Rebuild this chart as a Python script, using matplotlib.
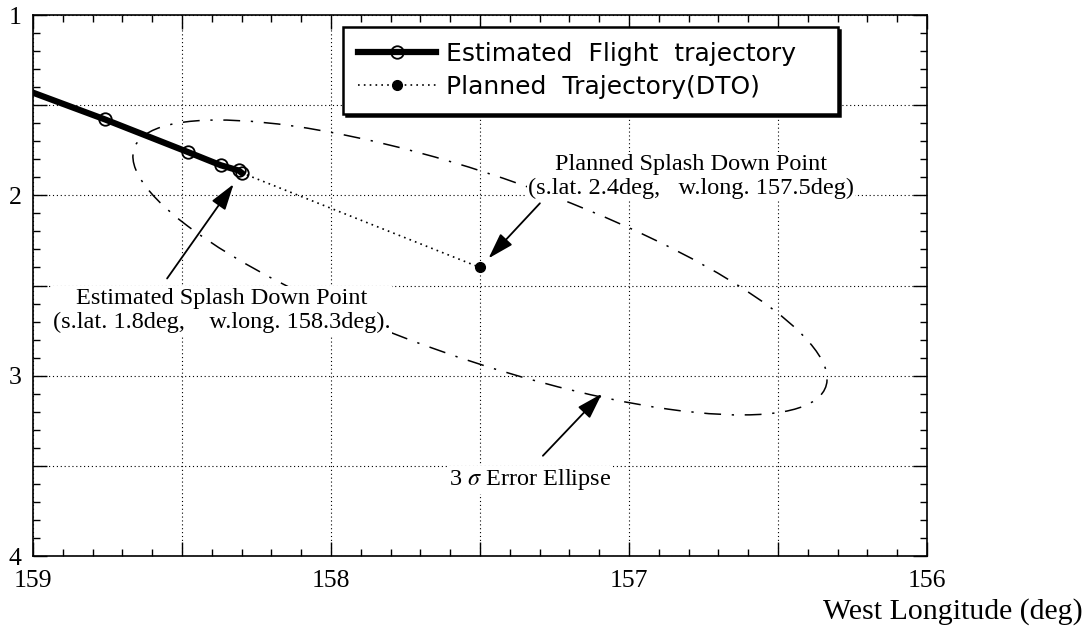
import numpy as np
import matplotlib.pyplot as plt
from matplotlib.patches import Ellipse
from matplotlib.ticker import MultipleLocator, FuncFormatter

plt.rcParams['font.family'] = 'Liberation Serif'
plt.rcParams['mathtext.fontset'] = 'stix'

# estimated flight trajectory (west longitude deg, south latitude deg)
est_lon = [159.05, 158.76, 158.48, 158.37, 158.31, 158.30]
est_lat = [1.40, 1.578, 1.76, 1.833, 1.862, 1.875]

# planned trajectory (DTO), ends at the planned splash down point
plan_lon = [159.05, 158.76, 158.48, 158.30, 157.5]
plan_lat = [1.40, 1.578, 1.76, 1.875, 2.4]

# 3 sigma error ellipse around the planned splash down point
ell_width = 2.69
ell_height = 0.93
ell_angle = -32.2


def trunc1(v):
    # one decimal, truncated like the flight report
    return '%.1f' % (np.floor(v * 10 + 1e-9) / 10)


est_pt = (est_lon[-1], est_lat[-1])
plan_pt = (plan_lon[-1], plan_lat[-1])

fig = plt.figure(figsize=(10.85, 6.28), dpi=100)
ax = fig.add_axes([0.0304, 0.1146, 0.824, 0.8615])

ax.set_xlim(159, 156)
ax.set_ylim(4, 1)

ax.xaxis.set_major_locator(MultipleLocator(0.5))
ax.xaxis.set_minor_locator(MultipleLocator(0.1))
ax.yaxis.set_major_locator(MultipleLocator(0.5))
ax.yaxis.set_minor_locator(MultipleLocator(0.1))
intlabel = FuncFormatter(lambda v, p: '%d' % round(v) if abs(v - round(v)) < 1e-6 else '')
ax.xaxis.set_major_formatter(intlabel)
ax.yaxis.set_major_formatter(intlabel)
ax.tick_params(which='both', direction='in', top=True, right=True, width=1)
ax.tick_params(which='major', length=10, labelsize=18.5)
ax.tick_params(which='minor', length=5)
ax.tick_params(axis='x', pad=10)
ax.tick_params(axis='y', pad=8)
for s in ax.spines.values():
    s.set_linewidth(1.2)

ax.grid(True, which='major', color='k', linestyle=(0, (1, 2.5)), linewidth=0.8)
ax.set_axisbelow(True)

ell = Ellipse(plan_pt, ell_width, ell_height, angle=ell_angle, fill=False,
              edgecolor='k', linewidth=1.1, linestyle=(0, (11, 7, 1.5, 7)), zorder=2)
ax.add_patch(ell)

ax.plot(plan_lon, plan_lat, color='k', linestyle=(0, (1, 2.5)), linewidth=1.2,
        marker='o', markersize=7, markevery=[len(plan_lon) - 1],
        label='Planned  Trajectory(DTO)', zorder=3)
ax.plot(est_lon, est_lat, color='k', linewidth=4.5, marker='o', markersize=9,
        markerfacecolor='none', markeredgewidth=1.3,
        label='Estimated  Flight  trajectory', zorder=4)

box = dict(facecolor='white', edgecolor='none', pad=1)
ax.text(156.792, 1.894,
        'Planned Splash Down Point\n(s.lat. %sdeg,   w.long. %sdeg)' % (trunc1(plan_pt[1]), trunc1(plan_pt[0])),
        ha='center', va='center', fontsize=17.5, bbox=box, zorder=5)
ax.text(158.366, 2.639,
        'Estimated Splash Down Point\n(s.lat. %sdeg,    w.long. %sdeg).' % (trunc1(est_pt[1]), trunc1(est_pt[0])),
        ha='center', va='center', fontsize=17.5, bbox=box, zorder=5)
ax.text(157.332, 3.578, r'3 $\sigma$ Error Ellipse', ha='center', va='center',
        fontsize=17.5, bbox=box, zorder=5)

arrow = dict(arrowstyle='-|>,head_length=0.8,head_width=0.25', color='k', lw=1.3,
             mutation_scale=20, shrinkA=0)
ax.annotate('', xy=plan_pt, xytext=(157.299, 2.044),
            arrowprops=dict(arrow, shrinkB=9), zorder=6)
ax.annotate('', xy=est_pt, xytext=(158.55, 2.461),
            arrowprops=dict(arrow, shrinkB=10), zorder=6)
ax.annotate('', xy=(157.091, 3.10), xytext=(157.289, 3.444),
            arrowprops=dict(arrow, shrinkB=0), zorder=6)

handles, labels = ax.get_legend_handles_labels()
leg = ax.legend(handles[::-1], labels[::-1], loc='upper left',
                bbox_to_anchor=(0.347, 0.978, 0.553, 0.0), mode='expand',
                prop={'family': 'DejaVu Sans', 'size': 18}, fancybox=False,
                shadow={'color': 'k', 'alpha': 1}, edgecolor='k', framealpha=1,
                handlelength=3.1, borderpad=0.6, labelspacing=0.35,
                handletextpad=0.4, borderaxespad=0)
leg.get_frame().set_linewidth(1.8)
leg.set_zorder(10)

fig.text(0.998, 0.027, 'West Longitude (deg)', ha='right', va='center', fontsize=21.5)

fig.savefig('out.png', dpi=100)
